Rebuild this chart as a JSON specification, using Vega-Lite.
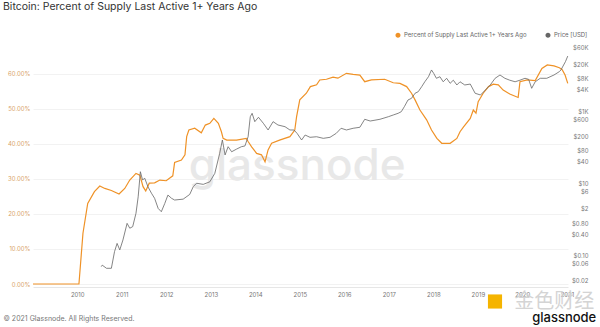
{
  "$schema": "https://vega.github.io/schema/vega-lite/v6.json",
  "autosize": {"type": "none"},
  "width": 535,
  "height": 245,
  "padding": {"left": 33, "top": 42, "right": 32, "bottom": 40},
  "background": "white",
  "title": {"text": "Bitcoin: Percent of Supply Last Active 1+ Years Ago", "anchor": "start", "frame": "group", "fontSize": 10.5, "font": "Inter", "fontWeight": 400, "color": "#333333", "dx": -30, "offset": 20},
  "config": {"font": "Inter", "view": {"stroke": null}},
  "datasets": {
    "supply": [
      {"date": "2009-01-03", "pct": 0},
      {"date": "2010-01-15", "pct": 0},
      {"date": "2010-02-17", "pct": 0.145},
      {"date": "2010-03-28", "pct": 0.23},
      {"date": "2010-05-22", "pct": 0.264},
      {"date": "2010-07-05", "pct": 0.28},
      {"date": "2010-08-15", "pct": 0.273},
      {"date": "2010-10-08", "pct": 0.267},
      {"date": "2010-12-10", "pct": 0.257},
      {"date": "2011-01-26", "pct": 0.273},
      {"date": "2011-03-08", "pct": 0.297},
      {"date": "2011-04-28", "pct": 0.316},
      {"date": "2011-05-30", "pct": 0.311},
      {"date": "2011-06-25", "pct": 0.278},
      {"date": "2011-07-17", "pct": 0.266},
      {"date": "2011-08-15", "pct": 0.288},
      {"date": "2011-09-28", "pct": 0.289},
      {"date": "2011-11-10", "pct": 0.297},
      {"date": "2012-01-01", "pct": 0.295},
      {"date": "2012-02-24", "pct": 0.309},
      {"date": "2012-03-10", "pct": 0.347},
      {"date": "2012-05-05", "pct": 0.354},
      {"date": "2012-06-03", "pct": 0.369},
      {"date": "2012-06-17", "pct": 0.421},
      {"date": "2012-07-05", "pct": 0.44},
      {"date": "2012-08-22", "pct": 0.445},
      {"date": "2012-10-15", "pct": 0.432},
      {"date": "2012-11-17", "pct": 0.454},
      {"date": "2012-12-24", "pct": 0.459},
      {"date": "2013-01-26", "pct": 0.473},
      {"date": "2013-03-04", "pct": 0.459},
      {"date": "2013-03-29", "pct": 0.435},
      {"date": "2013-04-12", "pct": 0.416},
      {"date": "2013-05-12", "pct": 0.411},
      {"date": "2013-07-31", "pct": 0.411},
      {"date": "2013-10-19", "pct": 0.416},
      {"date": "2013-11-03", "pct": 0.407},
      {"date": "2013-12-02", "pct": 0.392},
      {"date": "2014-01-12", "pct": 0.373},
      {"date": "2014-02-21", "pct": 0.369},
      {"date": "2014-03-22", "pct": 0.349},
      {"date": "2014-04-16", "pct": 0.383},
      {"date": "2014-05-15", "pct": 0.402},
      {"date": "2014-07-19", "pct": 0.411},
      {"date": "2014-10-12", "pct": 0.421},
      {"date": "2014-11-21", "pct": 0.44},
      {"date": "2014-12-06", "pct": 0.478},
      {"date": "2015-01-01", "pct": 0.526},
      {"date": "2015-02-24", "pct": 0.545},
      {"date": "2015-03-29", "pct": 0.564},
      {"date": "2015-05-19", "pct": 0.569},
      {"date": "2015-06-14", "pct": 0.583},
      {"date": "2015-08-08", "pct": 0.585},
      {"date": "2015-10-01", "pct": 0.591},
      {"date": "2015-11-10", "pct": 0.588},
      {"date": "2016-01-19", "pct": 0.602},
      {"date": "2016-03-14", "pct": 0.599},
      {"date": "2016-05-08", "pct": 0.597},
      {"date": "2016-06-17", "pct": 0.578},
      {"date": "2016-08-11", "pct": 0.583},
      {"date": "2016-11-28", "pct": 0.585},
      {"date": "2017-02-06", "pct": 0.575},
      {"date": "2017-04-02", "pct": 0.573},
      {"date": "2017-05-27", "pct": 0.564},
      {"date": "2017-07-06", "pct": 0.545},
      {"date": "2017-08-04", "pct": 0.526},
      {"date": "2017-09-13", "pct": 0.497},
      {"date": "2017-11-07", "pct": 0.469},
      {"date": "2017-12-17", "pct": 0.44},
      {"date": "2018-01-30", "pct": 0.416},
      {"date": "2018-03-11", "pct": 0.402},
      {"date": "2018-05-19", "pct": 0.402},
      {"date": "2018-07-13", "pct": 0.416},
      {"date": "2018-08-08", "pct": 0.435},
      {"date": "2018-09-06", "pct": 0.449},
      {"date": "2018-10-31", "pct": 0.473},
      {"date": "2018-11-25", "pct": 0.497},
      {"date": "2018-12-17", "pct": 0.488},
      {"date": "2019-01-04", "pct": 0.521},
      {"date": "2019-02-14", "pct": 0.545},
      {"date": "2019-03-30", "pct": 0.564},
      {"date": "2019-05-08", "pct": 0.571},
      {"date": "2019-06-18", "pct": 0.569},
      {"date": "2019-07-28", "pct": 0.554},
      {"date": "2019-09-20", "pct": 0.543},
      {"date": "2019-11-28", "pct": 0.533},
      {"date": "2019-12-13", "pct": 0.578},
      {"date": "2020-02-10", "pct": 0.583},
      {"date": "2020-04-16", "pct": 0.581},
      {"date": "2020-06-10", "pct": 0.616},
      {"date": "2020-07-24", "pct": 0.626},
      {"date": "2020-09-17", "pct": 0.623},
      {"date": "2020-10-31", "pct": 0.618},
      {"date": "2020-11-22", "pct": 0.613},
      {"date": "2020-12-17", "pct": 0.597},
      {"date": "2021-01-08", "pct": 0.573}
    ],
    "price": [
      {"date": "2010-07-17", "price": 0.05},
      {"date": "2010-07-25", "price": 0.055},
      {"date": "2010-08-29", "price": 0.045},
      {"date": "2010-10-08", "price": 0.045},
      {"date": "2010-11-03", "price": 0.13},
      {"date": "2010-11-24", "price": 0.22},
      {"date": "2010-12-16", "price": 0.145},
      {"date": "2011-01-11", "price": 0.274},
      {"date": "2011-02-14", "price": 0.79},
      {"date": "2011-03-08", "price": 0.58},
      {"date": "2011-04-01", "price": 0.64},
      {"date": "2011-04-28", "price": 1.5},
      {"date": "2011-05-16", "price": 4.3},
      {"date": "2011-06-03", "price": 21.3},
      {"date": "2011-06-21", "price": 12.6},
      {"date": "2011-07-09", "price": 14},
      {"date": "2011-08-04", "price": 8.2},
      {"date": "2011-09-02", "price": 5.4},
      {"date": "2011-09-28", "price": 3.9},
      {"date": "2011-10-27", "price": 2.05},
      {"date": "2011-11-22", "price": 1.66},
      {"date": "2011-12-20", "price": 2.8},
      {"date": "2012-01-15", "price": 4.8},
      {"date": "2012-02-14", "price": 3.9},
      {"date": "2012-03-10", "price": 3.5},
      {"date": "2012-05-19", "price": 3.7},
      {"date": "2012-07-12", "price": 5.0},
      {"date": "2012-08-10", "price": 8.2},
      {"date": "2012-09-06", "price": 10.2},
      {"date": "2012-10-31", "price": 9.5},
      {"date": "2012-12-24", "price": 11.2},
      {"date": "2013-02-03", "price": 19.2},
      {"date": "2013-03-15", "price": 69},
      {"date": "2013-04-06", "price": 161},
      {"date": "2013-04-28", "price": 62},
      {"date": "2013-05-23", "price": 105},
      {"date": "2013-06-21", "price": 76},
      {"date": "2013-07-31", "price": 90},
      {"date": "2013-09-09", "price": 105},
      {"date": "2013-10-08", "price": 110},
      {"date": "2013-11-03", "price": 198},
      {"date": "2013-11-21", "price": 711},
      {"date": "2013-12-06", "price": 883},
      {"date": "2013-12-28", "price": 518},
      {"date": "2014-01-27", "price": 686},
      {"date": "2014-03-08", "price": 467},
      {"date": "2014-04-16", "price": 305},
      {"date": "2014-05-27", "price": 518},
      {"date": "2014-07-06", "price": 419},
      {"date": "2014-09-02", "price": 376},
      {"date": "2014-10-12", "price": 305},
      {"date": "2014-11-14", "price": 305},
      {"date": "2014-12-10", "price": 246},
      {"date": "2015-01-16", "price": 161},
      {"date": "2015-02-14", "price": 221},
      {"date": "2015-03-26", "price": 191},
      {"date": "2015-05-19", "price": 198},
      {"date": "2015-07-13", "price": 179},
      {"date": "2015-09-06", "price": 191},
      {"date": "2015-10-27", "price": 246},
      {"date": "2015-12-06", "price": 340},
      {"date": "2016-01-19", "price": 305},
      {"date": "2016-03-14", "price": 340},
      {"date": "2016-05-08", "price": 362},
      {"date": "2016-06-17", "price": 603},
      {"date": "2016-08-01", "price": 540},
      {"date": "2016-10-20", "price": 603},
      {"date": "2016-12-28", "price": 711},
      {"date": "2017-02-06", "price": 793},
      {"date": "2017-03-18", "price": 883},
      {"date": "2017-04-13", "price": 980},
      {"date": "2017-05-08", "price": 1346},
      {"date": "2017-06-07", "price": 2065},
      {"date": "2017-07-06", "price": 2300},
      {"date": "2017-08-04", "price": 3170},
      {"date": "2017-08-30", "price": 3500},
      {"date": "2017-09-27", "price": 4800},
      {"date": "2017-10-23", "price": 6600},
      {"date": "2017-11-22", "price": 9100},
      {"date": "2017-12-17", "price": 14000},
      {"date": "2018-01-04", "price": 11300},
      {"date": "2018-01-26", "price": 8240},
      {"date": "2018-02-24", "price": 9100},
      {"date": "2018-03-23", "price": 6600},
      {"date": "2018-04-20", "price": 8240},
      {"date": "2018-05-19", "price": 5990},
      {"date": "2018-06-14", "price": 7300},
      {"date": "2018-07-13", "price": 5380},
      {"date": "2018-08-08", "price": 6600},
      {"date": "2018-09-16", "price": 5380},
      {"date": "2018-10-31", "price": 5700},
      {"date": "2018-12-10", "price": 3170},
      {"date": "2019-01-23", "price": 2840},
      {"date": "2019-03-04", "price": 3900},
      {"date": "2019-04-13", "price": 5380},
      {"date": "2019-05-23", "price": 8240},
      {"date": "2019-07-02", "price": 10170},
      {"date": "2019-08-11", "price": 8240},
      {"date": "2019-09-20", "price": 7300},
      {"date": "2019-11-03", "price": 6600},
      {"date": "2019-12-13", "price": 7300},
      {"date": "2020-01-23", "price": 8240},
      {"date": "2020-02-22", "price": 7720},
      {"date": "2020-03-18", "price": 4350},
      {"date": "2020-04-16", "price": 6600},
      {"date": "2020-05-27", "price": 8240},
      {"date": "2020-07-20", "price": 8240},
      {"date": "2020-09-17", "price": 10170},
      {"date": "2020-10-31", "price": 12600},
      {"date": "2020-11-13", "price": 14000},
      {"date": "2020-12-20", "price": 23800},
      {"date": "2021-01-08", "price": 34000}
    ]
  },
  "layer": [
    {
      "layer": [
        {
          "data": {"values": [{}]},
          "mark": {"type": "text", "text": "glassnode", "fontSize": 44, "fontWeight": 500, "color": "#e8e8e8", "align": "center", "baseline": "middle"},
          "encoding": {
            "x": {"datum": {"year": 2014, "month": 12, "date": 10}, "type": "temporal"},
            "y": {"datum": 0.334}
          }
        },
        {
          "data": {"name": "supply"},
          "mark": {"type": "line", "strokeWidth": 1.2},
          "encoding": {
            "x": {
              "field": "date", "type": "temporal",
              "scale": {"domain": [{"year": 2009, "month": 1, "date": 3}, {"year": 2021, "month": 1, "date": 10}]},
              "axis": {
                "values": [{"year": 2010, "month": 1, "date": 1}, {"year": 2011, "month": 1, "date": 1}, {"year": 2012, "month": 1, "date": 1}, {"year": 2013, "month": 1, "date": 1}, {"year": 2014, "month": 1, "date": 1}, {"year": 2015, "month": 1, "date": 1}, {"year": 2016, "month": 1, "date": 1}, {"year": 2017, "month": 1, "date": 1}, {"year": 2018, "month": 1, "date": 1}, {"year": 2019, "month": 1, "date": 1}, {"year": 2020, "month": 1, "date": 1}, {"year": 2021, "month": 1, "date": 1}],
                "format": "%Y", "labelColor": "#777777", "labelFontSize": 6, "labelPadding": 4,
                "ticks": false, "domain": true, "domainColor": "#e6e6e6", "grid": false,
                "labelFlush": false, "labelOverlap": false,
                "title": "© 2021 Glassnode. All Rights Reserved.",
                "titleX": -30, "titleY": 31, "titleAlign": "left", "titleAnchor": "start", "titleBaseline": "middle",
                "titleFontSize": 7, "titleFontWeight": "normal", "titleColor": "#777777"
              }
            },
            "y": {
              "field": "pct", "type": "quantitative",
              "scale": {"domain": [-0.00857, 0.6914], "nice": false, "zero": false},
              "axis": {
                "orient": "left", "values": [0, 0.1, 0.2, 0.3, 0.4, 0.5, 0.6], "format": ".2%", "title": null,
                "labelColor": "#d9a368", "labelFontSize": 6, "labelPadding": 3, "ticks": false, "domain": false,
                "grid": true, "gridColor": "#efefef", "gridWidth": 0.8
              }
            },
            "color": {
              "datum": "Percent of Supply Last Active 1+ Years Ago",
              "scale": {"domain": ["Percent of Supply Last Active 1+ Years Ago", "Price [USD]"], "range": ["#ef9227", "#666666"]},
              "legend": {
                "orient": "none", "legendX": 362, "legendY": -10, "direction": "horizontal", "title": null,
                "symbolType": "circle", "symbolSize": 6, "symbolStrokeWidth": 2.6, "labelFontSize": 6, "labelColor": "#666666",
                "columnPadding": 14, "labelOffset": 3
              }
            }
          }
        },
        {
          "data": {"values": [{}]},
          "mark": {"type": "text", "text": "金色财经", "font": "Noto Sans CJK SC", "fontSize": 20, "color": "#d4d4d4", "align": "center", "baseline": "middle"},
          "encoding": {
            "x": {"datum": {"year": 2020, "month": 9, "date": 20}, "type": "temporal"},
            "y": {"datum": -0.05}
          }
        },
        {
          "data": {"values": [{}]},
          "mark": {"type": "text", "text": "glassnode", "fontSize": 13, "fontWeight": 500, "color": "#111111", "align": "center", "baseline": "middle"},
          "encoding": {
            "x": {"datum": {"year": 2020, "month": 12, "date": 10}, "type": "temporal"},
            "y": {"datum": -0.097}
          }
        },
        {
          "data": {"values": [{}]},
          "mark": {"type": "point", "shape": "square", "filled": true, "size": 200, "color": "#f5b400", "opacity": 1},
          "encoding": {
            "x": {"datum": {"year": 2019, "month": 5, "date": 22}, "type": "temporal"},
            "y": {"datum": -0.05}
          }
        }
      ]
    },
    {
      "data": {"name": "price"},
      "mark": {"type": "line", "strokeWidth": 0.8},
      "encoding": {
        "x": {"field": "date", "type": "temporal"},
        "y": {
          "field": "price", "type": "quantitative",
          "scale": {"type": "log", "domain": [0.01364, 83400], "nice": false},
          "axis": {
            "orient": "right", "values": [0.02, 0.06, 0.1, 0.4, 0.8, 2, 6, 10, 40, 80, 200, 600, 1000, 4000, 8000, 20000, 60000],
            "labelExpr": "datum.value >= 1000 ? '$' + (datum.value / 1000) + 'K' : (datum.value >= 1 ? '$' + datum.value : '$' + format(datum.value, '.2f'))",
            "title": null, "labelColor": "#777777", "labelFontSize": 6, "labelAlign": "right", "labelPadding": 20,
            "ticks": false, "domain": false, "grid": false, "labelOverlap": false
          }
        },
        "color": {"datum": "Price [USD]"}
      }
    }
  ],
  "resolve": {"scale": {"y": "independent"}}
}
